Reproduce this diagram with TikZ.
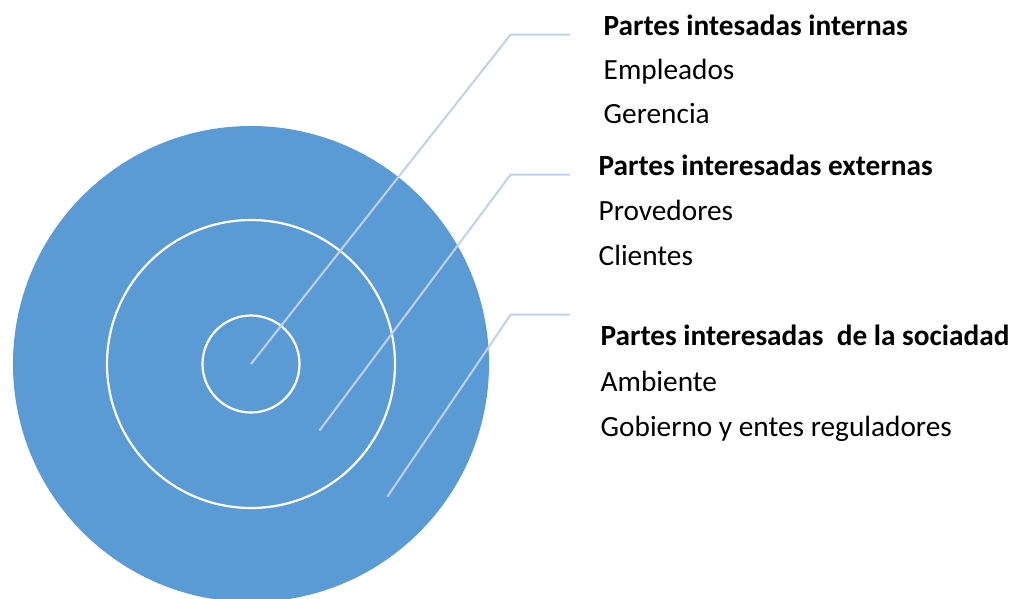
\documentclass[tikz,border=0pt]{standalone}
\usepackage{fontspec}
\setmainfont{Carlito}
\definecolor{ringblue}{HTML}{5B9BD5}
\definecolor{leadblue}{HTML}{BFD2EB}
\begin{document}
\begin{tikzpicture}[x=1pt,y=-1pt,
  ring/.style={draw=white,line width=2.2pt},
  leader/.style={draw=leadblue,line width=2pt},
  head/.style={anchor=base west,inner sep=0pt,font=\fontsize{29.3}{34}\selectfont\bfseries},
  item/.style={anchor=base west,inner sep=0pt,font=\fontsize{29.3}{34}\selectfont}]
\useasboundingbox (0,0) rectangle (1016,598);
\begin{scope}
\clip (0,0) rectangle (1016,598);
\fill[ringblue] (251,364) circle (238);
\end{scope}
\draw[ring] (251,364) circle (144);
\draw[ring] (251,364) circle (48.5);
% leader points
\coordinate (p1) at (251,364);
\coordinate (b1) at (510.7,34.5);
\coordinate (e1) at (570,34.5);
\coordinate (p2) at (319.5,430.5);
\coordinate (b2) at (510.7,174.5);
\coordinate (e2) at (570,174.5);
\coordinate (p3) at (387.5,496.5);
\coordinate (b3) at (510.7,314.5);
\coordinate (e3) at (570,314.5);
\draw[leader] (p1) -- (b1) -- (e1);
\draw[leader] (p2) -- (b2) -- (e2);
\draw[leader] (p3) -- (b3) -- (e3);
% texts
\node[head] (h1) at (603.5,35) {Partes intesadas internas};
\node[item] (i11) at (603.5,79) {Empleados};
\node[item] (i12) at (603.5,123) {Gerencia};
\node[head] (h2) at (598.5,175.5) {Partes interesadas externas};
\node[item] (i21) at (598.5,220) {Provedores};
\node[item] (i22) at (598.5,265) {Clientes};
\node[head] (h3) at (600.5,345) {Partes interesadas\ \ de la sociadad};
\node[item] (i31) at (600.5,391) {Ambiente};
\node[item] (i32) at (600.5,436.5) {Gobierno y entes reguladores};
\end{tikzpicture}
\end{document}
